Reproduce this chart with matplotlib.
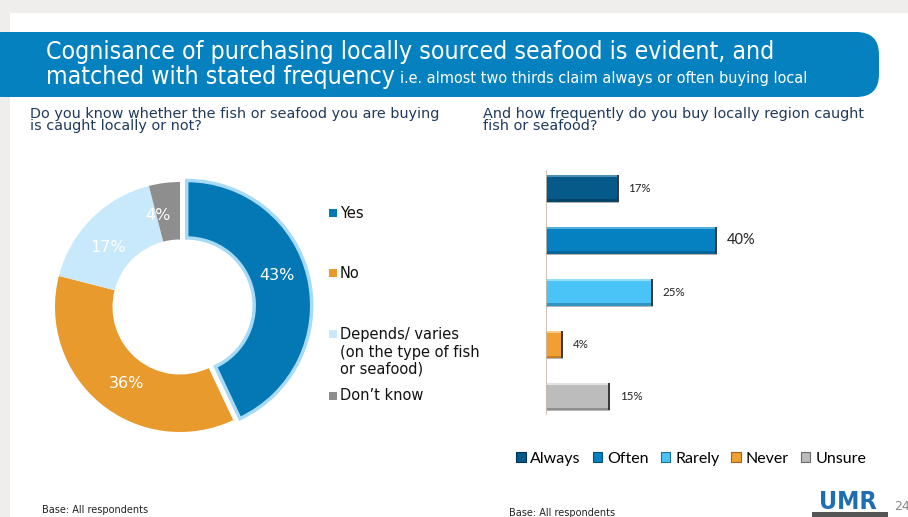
import matplotlib
matplotlib.use("Agg")
import matplotlib.pyplot as plt
from matplotlib.patches import FancyBboxPatch, Rectangle

# ---- data ----
aware_labels = ["Yes", "No", "Depends/ varies\n(on the type of fish\nor seafood)", "Don\u2019t know"]
aware_values = [43, 36, 17, 4]
aware_colors = ["#0478b5", "#e99a2d", "#c8e9fb", "#8e8e8e"]

freq_labels = ["Always", "Often", "Rarely", "Never", "Unsure"]
freq_values = [17, 40, 25, 4, 15]
freq_colors = ["#055a8a", "#0580c0", "#4ac3f6", "#f0a032", "#bcbcbc"]
freq_dark = ["#02324f", "#03507a", "#1f6f92", "#a0651a", "#6a6a6a"]
freq_light = ["#4d8fb5", "#4fb0e0", "#95dcfb", "#f8c98a", "#e2e2e2"]

W, H = 908, 517
fig = plt.figure(figsize=(W / 100, H / 100), dpi=100)
fig.patch.set_facecolor("#efeeec")


def px(x, y):
    return x / W, 1 - y / H


def add_axes_px(left, top, width, height):
    ax = fig.add_axes([left / W, 1 - (top + height) / H, width / W, height / H])
    ax.set_zorder(2)
    return ax


# white slide
fig.patches.append(Rectangle(px(10, H), (W - 10) / W, (H - 13) / H,
                             transform=fig.transFigure, facecolor="white",
                             edgecolor="none", zorder=-5))

# title banner with rounded right side
banner_col = "#0581bf"
fig.patches.append(FancyBboxPatch(px(-20, 97), (879 + 20) / W, 65 / H,
                                  boxstyle="round,pad=0,rounding_size=0.025",
                                  mutation_aspect=W / H,
                                  transform=fig.transFigure, facecolor=banner_col,
                                  edgecolor="none", zorder=-4))

title_kw = dict(family="DejaVu Sans", fontstretch="condensed", color="white",
                va="center", ha="left", zorder=3)
fig.text(*px(46, 52), "Cognisance of purchasing locally sourced seafood is evident, and",
         fontsize=17.8, **title_kw)
t2 = fig.text(*px(46, 77), "matched with stated frequency", fontsize=17.8, **title_kw)
fig.canvas.draw()
bb = t2.get_window_extent()
fig.text(bb.x1 / W + 5 / W, 1 - 79 / H,
         "i.e. almost two thirds claim always or often buying local",
         fontsize=11.6, **title_kw)

sub_col = "#1e3a5c"
fig.text(*px(30, 120), "Do you know whether the fish or seafood you are buying\nis caught locally or not?",
         color=sub_col, fontsize=10.4, linespacing=0.9, va="center", ha="left")
fig.text(*px(483, 120), "And how frequently do you buy locally region caught\nfish or seafood?",
         color=sub_col, fontsize=10.4, linespacing=0.9, va="center", ha="left")

# ---- donut ----
R = 125
axd = add_axes_px(180 - 1.2 * R, 307 - 1.2 * R, 2.4 * R, 2.4 * R)
wedges, _ = axd.pie(aware_values, colors=aware_colors, startangle=90, counterclock=False,
                    radius=1, explode=[0.055, 0, 0, 0],
                    wedgeprops=dict(width=0.46, edgecolor="none"))
wedges[0].set_edgecolor("#a6daf5")
wedges[0].set_linewidth(2.5)
axd.set_xlim(-1.2, 1.2)
axd.set_ylim(-1.2, 1.2)
axd.set_aspect("equal")
axd.axis("off")

label_pos = [(277, 276), (127, 384), (108, 248), (158, 216)]
for (lx, ly), v in zip(label_pos, aware_values):
    x = (lx - 180) / R
    y = (307 - ly) / R
    axd.text(x, y, f"{v}%", color="white", fontsize=11.5, ha="center", va="center")

# donut legend
leg_rows = [213, 273, 352, 396]
for lab, col, yy in zip(aware_labels, aware_colors, leg_rows):
    nlines = lab.count("\n") + 1
    ytop = yy - (nlines - 1) * 18.5 / 2
    fig.patches.append(Rectangle(px(329, ytop + 4), 8 / W, 8 / H, transform=fig.transFigure,
                                 facecolor=col, edgecolor="none"))
    fig.text(*px(340, yy), lab, fontsize=10.5, color="#111111", va="center", ha="left",
             linespacing=1.2)

# ---- bar chart ----
axb = add_axes_px(546, 170, 50 * 4.28, 245)
yp = list(range(len(freq_values)))
bh = 0.52
axb.barh(yp, freq_values, height=bh, color=freq_colors, edgecolor="none", zorder=2)
# bevel: highlight along the top edge, shadow along the bottom and right edges
axb.barh([p - bh / 2 + 0.02 for p in yp], freq_values, height=0.04, color=freq_light,
         edgecolor="none", zorder=3)
axb.barh([p + bh / 2 - 0.025 for p in yp], freq_values, height=0.05, color=freq_dark,
         alpha=0.55, edgecolor="none", zorder=3)
axb.barh([p + bh / 2 + 0.01 for p in yp], freq_values, height=0.02, color="#b5b5b5",
         edgecolor="none", zorder=3)
axb.barh(yp, [0.5] * len(yp), left=[v - 0.5 for v in freq_values], height=bh,
         color="#3a3a3a", edgecolor="none", zorder=4)
axb.set_xlim(0, 50)
axb.set_ylim(4.35, -0.35)
axb.axis("off")
axb.axvline(0, color="#c9b7a4", lw=1.2, zorder=5)
for p, v in zip(yp, freq_values):
    fs = 10.5 if v == max(freq_values) else 8.3
    axb.text(v + 2.2, p, f"{v}%", fontsize=fs, family="Lato", color="#222222",
             va="center", ha="left")

handles = [Rectangle((0, 0), 1, 1, facecolor=c, edgecolor=d, lw=0.8)
           for c, d in zip(freq_colors, freq_dark)]
fig.legend(handles, freq_labels, loc="center", bbox_to_anchor=px(691, 459), ncol=5,
           frameon=False, prop=dict(family="Lato", size=11.5), handlelength=0.6,
           handleheight=0.6, handletextpad=0.3, columnspacing=0.75)

# footer
fig.text(*px(42, 510), "Base: All respondents", fontsize=7, color="#222222", va="center", ha="left")
fig.text(*px(509, 513), "Base: All respondents", fontsize=7, color="#222222", va="center", ha="left")
fig.text(*px(848, 502), "UMR", fontsize=18, fontweight="bold", color="#1f6db3",
         family="DejaVu Sans", fontstretch="condensed", va="center", ha="center")
fig.patches.append(Rectangle(px(812, H), 76 / W, 5 / H, transform=fig.transFigure,
                             facecolor="#555555", edgecolor="none"))
fig.text(*px(894, 506), "24", fontsize=9, color="#888888", va="center", ha="left")

fig.savefig("out.png", dpi=100, facecolor=fig.get_facecolor())
